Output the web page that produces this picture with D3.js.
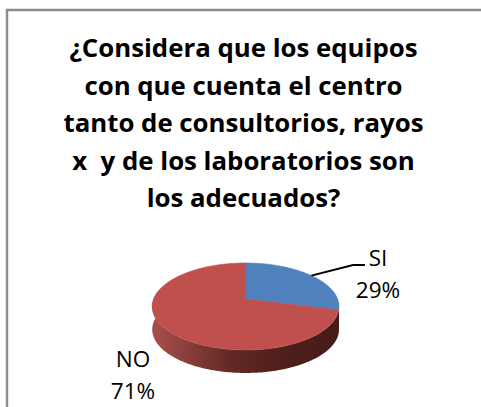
<!DOCTYPE html>
<html>
<head>
<meta charset="utf-8">
<script src="https://cdn.jsdelivr.net/npm/d3@7"></script>
<style>
  html, body { margin: 0; padding: 0; background: #fff; }
  svg { display: block; }
  text { font-family: "Open Sans", Lato, sans-serif; fill: #000; }
</style>
</head>
<body>
<div id="chart"></div>
<script>
const categories = ["SI", "NO"];
const percentages = [29, 71];
const sliceColors = ["#4f81bd", "#c0504d"];
const titleLines = [
  "¿Considera que los equipos",
  "con que cuenta el centro",
  "tanto de consultorios, rayos",
  "x  y de los laboratorios son",
  "los adecuados?"
];

const width = 481, height = 407;
const svg = d3.select("#chart").append("svg")
  .attr("width", width).attr("height", height);

// Chart frame: only the top and left edges fall inside the view
svg.append("path")
  .attr("d", d3.line()([[7, height], [7, 10], [width, 10]]))
  .attr("fill", "none").attr("stroke", "#8c8c8c").attr("stroke-width", 2.4);

// Title
const titleY = d3.scalePoint().domain(d3.range(titleLines.length)).range([57, 207]);
svg.append("g").selectAll("text").data(titleLines).join("text")
  .attr("x", 243.5).attr("y", (d, i) => titleY(i))
  .attr("text-anchor", "middle")
  .attr("font-size", 25.8).attr("font-weight", 700)
  .attr("xml:space", "preserve")
  .text(d => d);

// Tilted pie: each rim point goes through a perspective projection of the unit circle
const cx = 245.6, cy = 299, radiusX = 92, radiusY = 42.2, tilt = -0.172, depth = 23;
const project = (a, r = 1) => {
  const u = r * Math.sin(a), v = -r * Math.cos(a), w = 1 + tilt * v;
  return [cx + radiusX * u / w, cy + radiusY * v / w];
};
const arcs = d3.pie().sort(null)(percentages);

const rimAngles = (a0, a1) => {
  const n = Math.max(2, Math.ceil((a1 - a0) / 0.02));
  return d3.range(n + 1).map(i => a0 + (a1 - a0) * i / n);
};
const line = d3.line();

// Side wall shading
const defs = svg.append("defs");
const sideStops = [
  [0, "#a9504d"], [0.18, "#8a3f3c"], [0.42, "#632824"], [0.7, "#4e1f1c"], [1, "#461b18"]
];
const grad = defs.append("linearGradient").attr("id", "side-red")
  .attr("gradientUnits", "objectBoundingBox");
grad.selectAll("stop").data(sideStops).join("stop")
  .attr("offset", d => d[0]).attr("stop-color", d => d[1]);

// Visible wall: the front half of the rim, swept downward by the depth
const wallAngles = rimAngles(Math.PI / 2 + 0.18, 3 * Math.PI / 2 + 0.18);
const wallTop = wallAngles.map(a => project(a));
const wallBottom = wallTop.map(p => [p[0], p[1] + depth]).reverse();
svg.append("path")
  .attr("d", line(wallTop.concat(wallBottom)) + "Z")
  .attr("fill", "url(#side-red)");

// Top faces
svg.append("g").selectAll("path").data(arcs).join("path")
  .attr("d", d => line([[cx, cy]].concat(rimAngles(d.startAngle, d.endAngle).map(a => project(a)))) + "Z")
  .attr("fill", (d, i) => sliceColors[i])
  .attr("stroke", (d, i) => sliceColors[i]).attr("stroke-width", 0.6);

// Leader from the SI slice to its label
const siMid = (arcs[0].startAngle + arcs[0].endAngle) / 2;
svg.append("path")
  .attr("d", line([project(siMid), [353, 265], [365, 265]]))
  .attr("fill", "none").attr("stroke", "#000").attr("stroke-width", 2);

// Data labels
const labelPos = [[378, 266], [133, 367]];
const labels = svg.append("g").selectAll("g").data(categories).join("g")
  .attr("transform", (d, i) => `translate(${labelPos[i]})`)
  .attr("text-anchor", "middle").attr("font-size", 22.5);
labels.append("text").attr("y", 0).text(d => d);
labels.append("text").attr("y", 32).text((d, i) => percentages[i] + "%");
</script>
</body>
</html>
